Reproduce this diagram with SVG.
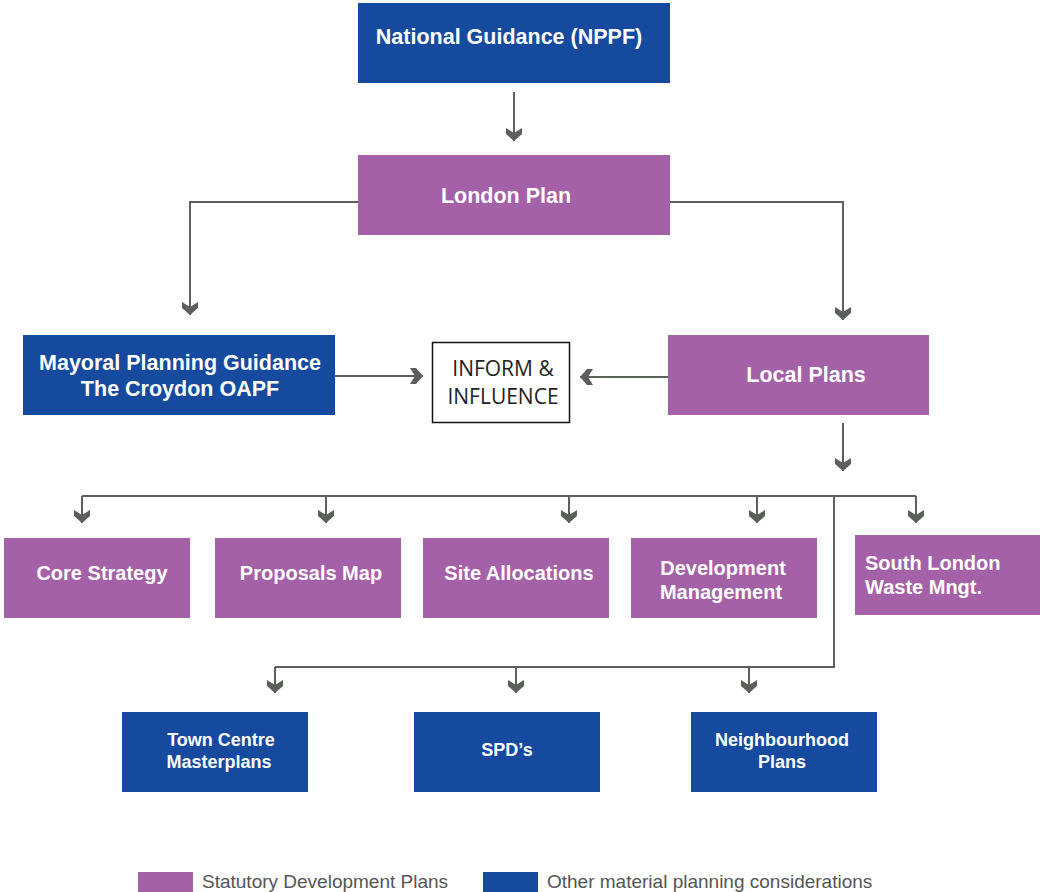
<svg xmlns="http://www.w3.org/2000/svg" width="1040" height="892" viewBox="0 0 1040 892">
<style>
.blue{fill:#164a9e}
.purple{fill:#a461a7}
.t{font-family:"Liberation Sans",Arial,sans-serif;font-weight:bold;fill:#fff;text-anchor:middle}
.t21{font-size:21.5px}
.t20{font-size:20px}
.t18{font-size:18px}
.inf{font-family:"Open Sans","Noto Sans",sans-serif;font-size:21px;fill:#222;text-anchor:middle}
.leg{font-family:"Liberation Sans",Arial,sans-serif;font-size:19px;fill:#555}
.c{fill:none;stroke:#5b605b;stroke-width:2}
</style>
<defs>
<marker id="ah" markerUnits="userSpaceOnUse" markerWidth="14" markerHeight="17" viewBox="0 0 14 17" refX="13" refY="8.5" orient="auto">
<path d="M13,8.5 L6,0.5 L0,0.5 L5,8.5 L0,16.5 L6,16.5 Z" fill="#5b605b"/>
</marker>
</defs>

<g id="connectors">
<path class="c" d="M514,92 V141" marker-end="url(#ah)"/>
<path class="c" d="M358,202 H190 V315" marker-end="url(#ah)"/>
<path class="c" d="M670,202 H843 V320" marker-end="url(#ah)"/>
<path class="c" d="M335,376 H423" marker-end="url(#ah)"/>
<path class="c" d="M668,377 H580" marker-end="url(#ah)"/>
<path class="c" d="M843,423 V471" marker-end="url(#ah)"/>
<path class="c" d="M82,496 H916"/>
<path class="c" d="M82,496 V523" marker-end="url(#ah)"/>
<path class="c" d="M326,496 V523" marker-end="url(#ah)"/>
<path class="c" d="M569,496 V523" marker-end="url(#ah)"/>
<path class="c" d="M757,496 V523" marker-end="url(#ah)"/>
<path class="c" d="M916,496 V523" marker-end="url(#ah)"/>
<path class="c" d="M834,496 V667 H275"/>
<path class="c" d="M275,667 V693" marker-end="url(#ah)"/>
<path class="c" d="M516,667 V693" marker-end="url(#ah)"/>
<path class="c" d="M749,667 V693" marker-end="url(#ah)"/>
</g>

<g id="nppf">
<rect class="blue" x="358" y="3" width="312" height="80"/>
<text class="t t21" x="509" y="43.5">National Guidance (NPPF)</text>
</g>
<g id="london-plan">
<rect class="purple" x="358" y="155" width="312" height="80"/>
<text class="t t21" x="506" y="202.5">London Plan</text>
</g>
<g id="mayoral">
<rect class="blue" x="23" y="335" width="312" height="80"/>
<text class="t t21" x="180" y="369.5">Mayoral Planning Guidance</text>
<text class="t t21" x="180" y="395.5">The Croydon OAPF</text>
</g>
<g id="inform">
<rect x="432.5" y="342.5" width="137" height="80" fill="#fff" stroke="#111" stroke-width="1.5"/>
<text class="inf" x="503" y="376">INFORM &amp;</text>
<text class="inf" x="503" y="404">INFLUENCE</text>
</g>
<g id="local-plans">
<rect class="purple" x="668" y="335" width="261" height="80"/>
<text class="t t21" x="806" y="381.5">Local Plans</text>
</g>
<g id="core-strategy">
<rect class="purple" x="4" y="538" width="186" height="80"/>
<text class="t t20" x="102" y="580">Core Strategy</text>
</g>
<g id="proposals-map">
<rect class="purple" x="215" y="538" width="186" height="80"/>
<text class="t t20" x="311" y="580">Proposals Map</text>
</g>
<g id="site-allocations">
<rect class="purple" x="423" y="538" width="186" height="80"/>
<text class="t t20" x="519" y="580">Site Allocations</text>
</g>
<g id="development-management">
<rect class="purple" x="631" y="538" width="186" height="80"/>
<text class="t t20" x="723" y="575">Development</text>
<text class="t t20" x="721" y="599">Management</text>
</g>
<g id="south-london-waste">
<rect class="purple" x="855" y="535" width="186" height="80"/>
<text class="t t20" x="865" y="570" style="text-anchor:start">South London</text>
<text class="t t20" x="865" y="594" style="text-anchor:start">Waste Mngt.</text>
</g>
<g id="town-centre">
<rect class="blue" x="122" y="712" width="186" height="80"/>
<text class="t t18" x="221" y="745.5">Town Centre</text>
<text class="t t18" x="219" y="767.5">Masterplans</text>
</g>
<g id="spds">
<rect class="blue" x="414" y="712" width="186" height="80"/>
<text class="t t18" x="507" y="755.5">SPD’s</text>
</g>
<g id="neighbourhood">
<rect class="blue" x="691" y="712" width="186" height="80"/>
<text class="t t18" x="782" y="745.5">Neighbourhood</text>
<text class="t t18" x="782" y="767.5">Plans</text>
</g>

<g id="legend">
<rect class="purple" x="138" y="872" width="55" height="20"/>
<text class="leg" x="202" y="888">Statutory Development Plans</text>
<rect class="blue" x="483" y="872" width="55" height="20"/>
<text class="leg" x="547" y="888">Other material planning considerations</text>
</g>
</svg>
